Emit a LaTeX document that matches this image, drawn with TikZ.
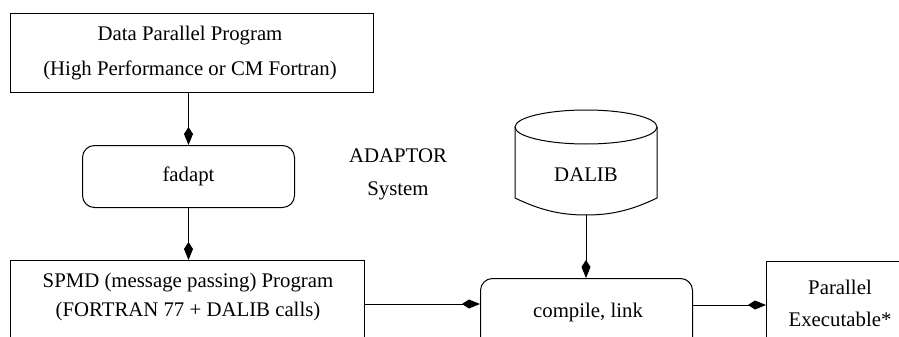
\documentclass[tikz,border=0pt]{standalone}
\usepackage{fontspec}
\setmainfont{Liberation Serif}
\usetikzlibrary{arrows.meta}
\tikzset{
  base/.style={line width=1pt, draw=black},
  boxsq/.style={base, rectangle, inner sep=0pt, anchor=north west},
  boxrd/.style={base, rectangle, rounded corners=12pt, inner sep=0pt, anchor=north west},
  txt/.style={align=center, inner sep=0pt, font=\fontsize{20.8}{30}\selectfont},
  arr/.style={line width=1pt, -{Kite[length=18pt, width=9pt, inset=7pt]}},
}
\begin{document}
\begin{tikzpicture}[x=1pt,y=-1pt]
\useasboundingbox (0,0) rectangle (899,337);
\clip (0,0) rectangle (899,337);
% boxes
\node[boxsq, minimum width=363pt, minimum height=79pt] (dp) at (10,13) {};
\node[txt, font=\fontsize{20.8}{35}\selectfont] (dptxt) at (190,53.5) {Data Parallel Program\\(High Performance or CM Fortran)};
\node[boxrd, minimum width=212pt, minimum height=62pt] (fad) at (82,145) {};
\node[txt] (fadtxt) at (fad.center) {fadapt};
\node[boxsq, minimum width=354pt, minimum height=100pt] (spmd) at (10,260) {};
\node[txt, font=\fontsize{20.8}{29}\selectfont] (spmdtxt) at (188,297) {SPMD (message passing) Program\\(FORTRAN 77 + DALIB calls)};
\node[txt, font=\fontsize{20.8}{33}\selectfont] (adaptor) at (398,174) {ADAPTOR\\System};
% cylinder
\coordinate (dalibbot) at (586,215);
\draw[base] (515,127) -- (515,198) .. controls (540,210) and (560,215) .. (dalibbot) .. controls (612,215) and (632,210) .. (657,198) -- (657,127);
\draw[base] (586,127) ellipse [x radius=71, y radius=17];
\node[txt] (dalib) at (586,175) {DALIB};
\node[boxrd, minimum width=212pt, minimum height=100pt] (comp) at (480,278) {};
\node[txt] (comptxt) at (588,312) {compile, link};
\node[boxsq, minimum width=150pt, minimum height=100pt] (par) at (766,261) {};
\node[txt, font=\fontsize{20.8}{32}\selectfont] (partxt) at (840,303) {Parallel\\Executable*};
% arrows
\coordinate (ya) at (0,304);
\coordinate (yb) at (0,305);
\draw[arr] (fad.north |- dp.south) -- (fad.north);
\draw[arr] (fad.south) -- (fad.south |- spmd.north);
\draw[arr] (dalibbot) -- (dalibbot |- comp.north);
\draw[arr] (spmd.east |- ya) -- (comp.west |- ya);
\draw[arr] (comp.east |- yb) -- (par.west |- yb);
\end{tikzpicture}
\end{document}
